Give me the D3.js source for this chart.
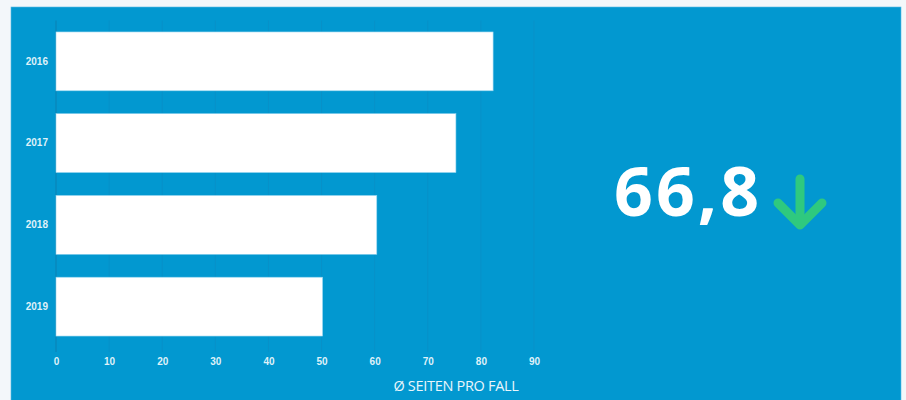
<!DOCTYPE html>
<html>
<head>
<meta charset="utf-8">
<script src="https://cdn.jsdelivr.net/npm/d3@7"></script>
<style>
  html, body { margin: 0; padding: 0; background: #f3f7fa; }
  #chart { width: 906px; height: 400px; }
</style>
</head>
<body>
<div id="chart"></div>
<script>
// Ø Seiten pro Fall – horizontal bars per year plus KPI

const years = ["2016", "2017", "2018", "2019"];
const pages = [82.3, 75.3, 60.4, 50.2];
const xTicks = [0, 10, 20, 30, 40, 50, 60, 70, 80, 90];
const axisTitle = "Ø SEITEN PRO FALL";
const kpiText = "66,8";

const data = years.map((y, i) => ({ year: y, value: pages[i] }));

const width = 906;
const height = 400;
const margin = { top: 20.5, right: 372, bottom: 52.5, left: 56 };

const svg = d3.select("#chart")
  .append("svg")
  .attr("width", width)
  .attr("height", height);

// blue panel
svg.append("rect")
  .attr("x", 11)
  .attr("y", 7)
  .attr("width", 890)
  .attr("height", 400)
  .attr("fill", "#0298d0")
  .attr("stroke", "#5bbbe3")
  .attr("stroke-width", 0.6);

const x = d3.scaleLinear()
  .domain([0, 90])
  .range([margin.left, 534]);

const y = d3.scaleBand()
  .domain(years)
  .range([margin.top, height - margin.bottom])
  .paddingInner(0.28)
  .paddingOuter(0.14);

// grid lines
svg.append("g")
  .selectAll("line")
  .data(xTicks)
  .enter()
  .append("line")
  .attr("x1", d => x(d))
  .attr("x2", d => x(d))
  .attr("y1", margin.top)
  .attr("y2", 352)
  .attr("stroke", d => d === 0 ? "#0a80b2" : "#0891c8")
  .attr("stroke-width", 1);

// bars
svg.append("g")
  .selectAll("rect")
  .data(data)
  .enter()
  .append("rect")
  .attr("x", x(0))
  .attr("y", d => y(d.year))
  .attr("width", d => x(d.value) - x(0))
  .attr("height", y.bandwidth())
  .attr("fill", "#ffffff")
  .attr("stroke", "#8fd3ef")
  .attr("stroke-width", 0.6);

// y axis labels
const yAxis = svg.append("g")
  .attr("transform", `translate(${margin.left},0)`)
  .call(d3.axisLeft(y).tickSize(0).tickPadding(8));
yAxis.select(".domain").remove();
yAxis.selectAll("text")
  .attr("fill", "#dff1f9")
  .style("font-family", "Liberation Sans, Arial, sans-serif")
  .style("font-weight", "bold")
  .style("font-size", "10px");

// x axis labels
const xAxis = svg.append("g")
  .attr("transform", `translate(0,352)`)
  .call(d3.axisBottom(x).tickValues(xTicks).tickSize(0).tickPadding(6));
xAxis.select(".domain").remove();
xAxis.selectAll("text")
  .attr("fill", "#dff1f9")
  .style("font-family", "Liberation Sans, Arial, sans-serif")
  .style("font-weight", "bold")
  .style("font-size", "10px");

svg.append("text")
  .attr("x", 456)
  .attr("y", 391)
  .attr("text-anchor", "middle")
  .attr("fill", "#eaf6fc")
  .style("font-family", "Open Sans, sans-serif")
  .style("font-size", "14.5px")
  .style("letter-spacing", "-0.3px")
  .text(axisTitle);

// KPI value
svg.append("text")
  .attr("x", 614)
  .attr("y", 216)
  .attr("fill", "#ffffff")
  .style("font-family", "Open Sans, sans-serif")
  .style("font-weight", "bold")
  .style("font-size", "68px")
  .style("letter-spacing", "3px")
  .text(kpiText);

// down arrow
const arrow = svg.append("g")
  .attr("stroke", "#2fc97f")
  .attr("stroke-width", 9)
  .attr("stroke-linecap", "round")
  .attr("stroke-linejoin", "round")
  .attr("fill", "none");
arrow.append("line")
  .attr("x1", 800).attr("y1", 179)
  .attr("x2", 800).attr("y2", 224);
arrow.append("polyline")
  .attr("points", "778,203 800,225 822,203");
</script>
</body>
</html>
